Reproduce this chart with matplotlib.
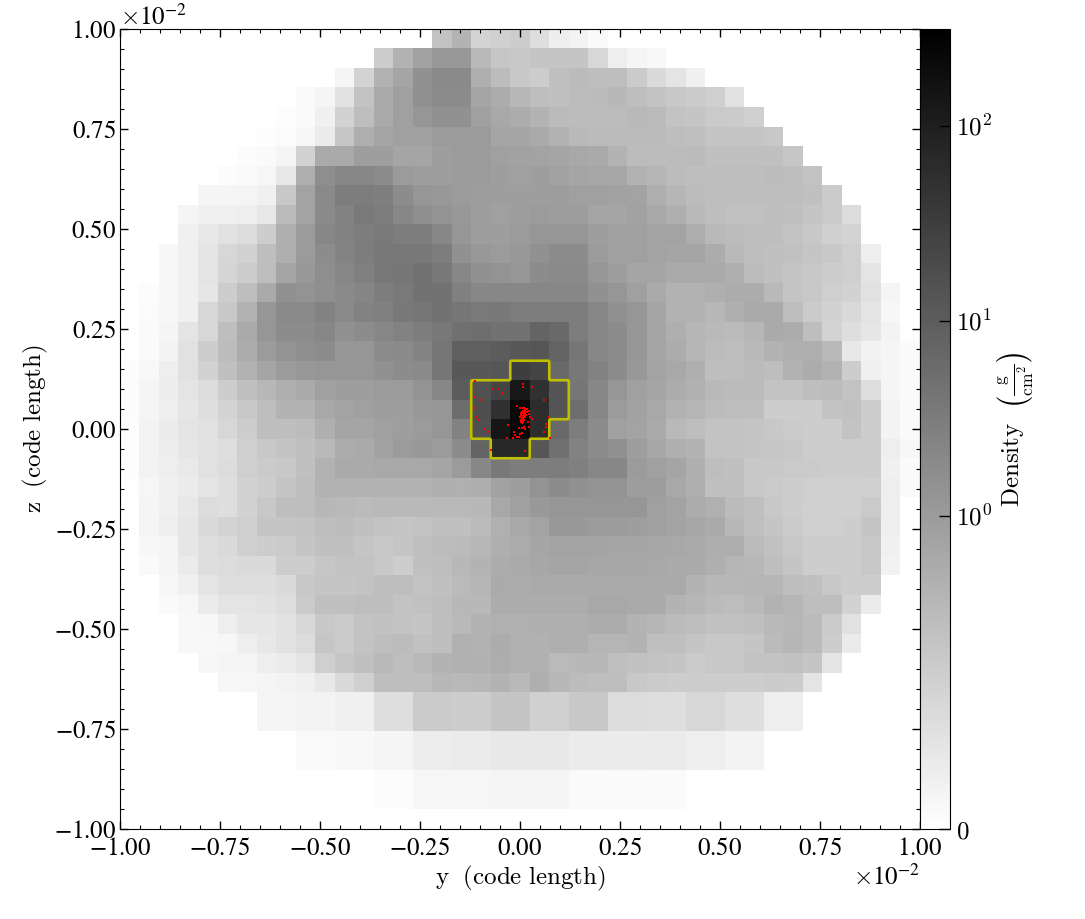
import numpy as np
import matplotlib
matplotlib.use("Agg")
import matplotlib.pyplot as plt
from matplotlib.colors import SymLogNorm
from matplotlib.ticker import ScalarFormatter, MultipleLocator, FixedLocator, FixedFormatter

plt.rcParams['font.family'] = ['STIXGeneral', 'DejaVu Sans']
plt.rcParams['mathtext.fontset'] = 'cm'
plt.rcParams['axes.formatter.use_mathtext'] = True

# grey level (255 = white) read for each cell, top row first: (first column, levels)
cell_rows = [
 (16, [195,180,212,208,205,222,238,243,250]),
 (13, [205,178,162,152,152,185,198,200,197,197,197,215,238,245,248]),
 (11, [245,212,178,165,145,138,138,175,188,200,205,192,187,190,190,203,218,228,240]),
 (9, [250,245,226,195,170,160,145,140,140,165,172,183,190,192,188,187,184,190,195,200,203,207,225]),
 (8, [253,250,240,210,190,170,160,150,145,145,160,168,172,180,187,188,188,188,185,187,195,197,202,203,208]),
 (7, [253,251,247,235,198,175,165,160,160,155,155,155,165,165,170,178,185,187,187,187,187,190,192,197,197,197,200]),
 (6, [252,250,245,210,170,170,158,158,165,165,158,155,155,160,162,163,165,168,170,180,188,188,188,187,192,192,192,192,198]),
 (5, [252,250,246,232,175,142,135,135,140,155,158,158,155,155,158,160,158,162,165,167,167,178,182,188,190,190,190,190,188,190,195]),
 (4, [245,245,245,240,200,163,138,125,125,127,140,150,152,155,157,158,158,158,157,160,160,162,163,175,182,188,190,190,190,190,190,192,203]),
 (3, [245,240,240,238,232,187,163,138,130,122,125,135,143,148,152,158,160,158,155,157,157,165,165,162,168,175,185,190,193,193,190,192,197,202,220]),
 (3, [240,232,225,220,205,175,155,135,130,125,122,125,125,135,150,158,158,155,150,150,150,158,160,160,163,163,173,185,188,190,190,195,200,208,212]),
 (2, [247,240,228,215,210,190,175,155,140,132,125,120,120,120,125,145,152,155,152,145,140,140,155,160,160,163,165,165,172,185,190,192,193,197,200,207,238]),
 (2, [247,240,228,213,205,190,165,152,142,135,128,120,118,115,120,135,145,148,150,140,138,138,150,158,165,165,170,170,170,175,188,192,197,200,205,207,228]),
 (1, [252,247,240,230,205,190,170,145,148,143,138,133,125,122,115,115,128,135,135,135,135,135,135,145,150,160,170,178,178,175,172,172,185,197,200,207,210,225,245]),
 (1, [251,247,240,215,200,178,150,138,138,130,138,130,128,120,118,115,118,122,120,125,125,125,125,135,145,150,165,178,180,183,175,170,170,190,203,210,217,228,247]),
 (0, [255,250,245,228,215,190,170,150,140,140,135,145,140,135,130,125,120,112,110,115,115,100,105,125,135,140,150,165,175,182,185,187,182,170,172,190,212,222,230,243,254]),
 (0, [254,250,243,225,205,188,172,155,148,142,140,150,150,140,138,132,118,95,95,92,88,86,100,118,135,140,150,165,172,182,188,190,185,178,175,175,185,232,242,245,250]),
 (0, [252,248,238,225,210,192,178,165,155,152,150,150,150,145,140,138,118,88,88,86,62,68,105,120,130,140,152,163,168,175,190,190,187,190,178,172,178,205,240,245,250]),
 (0, [252,245,237,228,220,205,192,183,175,170,160,158,158,155,155,148,135,92,82,68,25,50,84,118,135,150,160,165,172,177,185,187,187,195,195,190,188,195,222,245,250]),
 (0, [252,245,238,230,222,212,200,190,180,178,168,163,160,158,158,152,150,108,78,50,10,45,84,110,135,155,162,168,178,182,188,190,190,205,205,205,195,193,205,243,250]),
 (0, [253,243,235,228,225,215,205,190,190,188,175,165,165,160,158,155,150,130,80,22,8,45,105,125,140,160,163,170,185,190,195,195,197,200,203,205,205,195,205,243,250]),
 (0, [253,243,237,230,225,222,207,200,195,192,185,172,170,162,155,153,155,140,100,40,42,86,112,130,140,145,158,167,175,180,195,195,197,198,200,205,205,205,205,238,247]),
 (0, [253,243,238,233,225,220,207,203,200,192,178,170,170,168,168,168,165,155,135,120,125,125,125,128,135,135,155,160,165,175,190,192,200,200,202,203,205,205,205,240,250]),
 (0, [254,246,240,235,228,222,210,205,197,190,178,178,178,178,178,178,175,176,174,162,158,148,140,144,148,148,157,157,168,175,192,192,200,202,205,207,207,207,208,238,250]),
 (0, [255,245,240,232,220,222,210,200,190,190,183,185,187,185,185,185,185,185,184,168,160,153,150,150,150,150,150,160,163,172,176,187,191,200,205,208,208,208,202,238,255]),
 (0, [255,245,238,230,218,212,207,197,197,195,190,188,192,195,197,195,192,192,186,176,168,163,152,153,156,156,158,160,164,167,170,184,191,197,203,207,207,205,197,238,255]),
 (0, [255,247,245,230,222,218,208,205,203,197,192,192,197,200,197,192,188,187,183,175,172,166,163,163,163,166,166,167,168,170,174,174,187,193,200,205,205,205,200,240,255]),
 (0, [255,250,245,235,222,220,218,218,205,205,198,195,195,200,205,192,190,184,179,172,170,167,165,165,167,167,167,168,170,170,175,181,183,190,197,205,205,205,200,242,255]),
 (2, [247,240,228,222,222,222,218,200,197,197,195,190,190,195,192,186,181,171,172,170,170,170,170,170,170,170,170,179,183,183,181,182,190,192,200,205,205]),
 (2, [250,247,235,228,228,226,222,202,192,192,190,190,195,193,190,184,184,172,172,172,172,172,168,168,170,171,179,182,187,189,185,178,182,190,190,210,235]),
 (3, [248,247,238,230,230,226,215,200,203,195,193,195,197,190,185,178,176,176,175,175,175,172,172,179,182,187,189,193,193,191,185,183,187,203,225]),
 (3, [248,248,247,238,232,226,220,198,203,195,190,188,193,190,176,178,172,176,177,175,175,181,181,180,191,191,197,200,200,197,187,182,187,205,235]),
 (4, [247,245,245,238,235,228,207,198,192,185,190,185,180,177,177,173,177,177,186,184,184,191,193,195,197,203,200,200,195,195,193,197,228]),
 (5, [247,246,245,243,240,232,218,208,190,190,190,183,185,183,180,185,175,183,188,190,190,200,203,205,205,205,205,205,203,205,228]),
 (7, [245,245,243,243,240,240,222,222,203,203,205,205,197,197,208,208,200,200,220,220,222,222,215,215,222,222,238,238]),
 (7, [245,245,243,243,240,240,222,222,203,203,205,205,197,197,208,208,200,200,220,220,222,222,215,215,222,222,238,238]),
 (9, [250,250,248,248,245,245,237,237,235,235,232,232,232,232,235,235,236,236,235,235,238,238,243,243]),
 (9, [250,250,248,248,245,245,237,237,235,235,232,232,232,232,235,235,236,236,235,235,238,238,243,243]),
 (13, [252,252,246,246,246,246,245,245,245,245,250,250,250,250,250,250]),
 (13, [252,252,246,246,246,246,245,245,245,245,250,250,250,250,250,250]),
 (0, []),
]

# particles, in units of 1e-2 code length
star_y = [-0.1125,-0.071,-0.054,-0.042,0.008,0.008,0.029,-0.114,-0.100,0.061,-0.114,-0.007,0.0,-0.110,-0.106,-0.087,-0.078,-0.031,-0.073,0.012,-0.033,-0.018,0.073,0.065,0.065,0.059,0.075,
          0.007,0.010,0.013,0.017,0.020,0.023,0.008,0.005,0.012,0.018,0.003,0.008,0.013,0.022,0.003,0.007,0.010,0.015,0.0,0.005,0.008,0.012,0.025,0.030,0.002,0.007,0.010,0.003,0.008,0.020,0.005,-0.003,0.004,0.0125,0.022,-0.015,-0.013,0.0,0.004,-0.003,-0.007,0.010]
star_z = [0.120,0.099,0.099,0.089,0.1125,0.104,0.104,0.079,0.072,0.072,0.053,0.058,0.053,0.031,0.0225,0.0,-0.007,0.009,-0.053,-0.055,-0.023,-0.023,0.029,0.0125,0.004,-0.0075,-0.023,
          0.052,0.052,0.050,0.049,0.046,0.046,0.046,0.043,0.044,0.0425,0.039,0.039,0.039,0.0375,0.034,0.0325,0.034,0.034,0.029,0.0275,0.0275,0.029,0.031,0.026,0.0225,0.0225,0.0225,0.0175,0.0175,0.018,0.014,0.002,0.002,-0.001,0.004,-0.0075,-0.014,-0.0125,-0.011,-0.019,-0.021,0.004]

clump_density = 13.5   # contour level, g/cm^2
cbar_ticks = [0, 1, 10, 100]
cbar_labels = ['$0$', '$10^{0}$', '$10^{1}$', '$10^{2}$']
half_width = 0.01
n_cells = 41

for r, (s, v) in enumerate(cell_rows):
    if s + len(v) > n_cells:
        print('row too long', r, s + len(v))

levels = np.full((n_cells, n_cells), 255.0)
for r, (s, v) in enumerate(cell_rows):
    levels[r, s:s + len(v)] = v

norm = SymLogNorm(linthresh=0.1, linscale=0.545, vmin=0, vmax=314, base=10)
density = np.asarray(norm.inverse(1 - levels / 255.0), dtype=float)
density[levels >= 255] = 0

W, H = 1085, 919
fig = plt.figure(figsize=(W / 100, H / 100), dpi=100)
ax = fig.add_axes([120 / W, 1 - 829 / H, 800 / W, 800 / H])
cax = fig.add_axes([920 / W, 1 - 829 / H, 30 / W, 800 / H])

im = ax.imshow(density, cmap='binary', norm=norm, origin='upper', interpolation='nearest',
               extent=[-half_width, half_width, -half_width, half_width], aspect='equal')

# clump outline from the density field, on an upsampled grid so that it follows cell edges
up = 12
mask = np.kron(density > clump_density, np.ones((up, up)))
edges = np.linspace(-half_width, half_width, n_cells * up + 1)
centres = 0.5 * (edges[:-1] + edges[1:])
ax.contour(centres, centres[::-1], mask, levels=[0.5], colors=[(0.75, 0.75, 0)], linewidths=1.9)

ax.scatter(np.array(star_y) * 1e-2, np.array(star_z) * 1e-2, s=1.6, c='red', marker='s', linewidths=0, zorder=5)

ax.set_xlim(-half_width, half_width)
ax.set_ylim(-half_width, half_width)
for axis in (ax.xaxis, ax.yaxis):
    fmt = ScalarFormatter(useMathText=True)
    fmt.set_powerlimits((-1, 1))
    axis.set_major_formatter(fmt)
    axis.set_major_locator(MultipleLocator(0.0025))
    axis.set_minor_locator(MultipleLocator(0.0005))
    axis.get_offset_text().set_fontsize(18)
ax.tick_params(which='major', direction='in', top=True, right=True, length=6, width=1,
               labelsize=18, pad=6)
ax.tick_params(axis='y', which='major', pad=2.5)
ax.tick_params(which='minor', direction='in', top=True, right=True, length=3, width=0.8)
ax.set_xlabel(r'$\mathrm{y\ \ (code\ length)}$', fontsize=18, labelpad=2)
ax.set_ylabel(r'$\mathrm{z\ \ (code\ length)}$', fontsize=18, labelpad=3)

cb = fig.colorbar(im, cax=cax)
cb.ax.yaxis.set_major_locator(FixedLocator(cbar_ticks))
cb.ax.yaxis.set_major_formatter(FixedFormatter(cbar_labels))
cb.ax.minorticks_off()
cb.ax.tick_params(which='major', direction='in', length=8, width=1, labelsize=18, pad=4.5)
cb.set_label(r'$\mathrm{Density}\ \ \left(\frac{\mathrm{g}}{\mathrm{cm}^{2}}\right)$', fontsize=18, labelpad=2)

fig.savefig('out.png', dpi=100)
